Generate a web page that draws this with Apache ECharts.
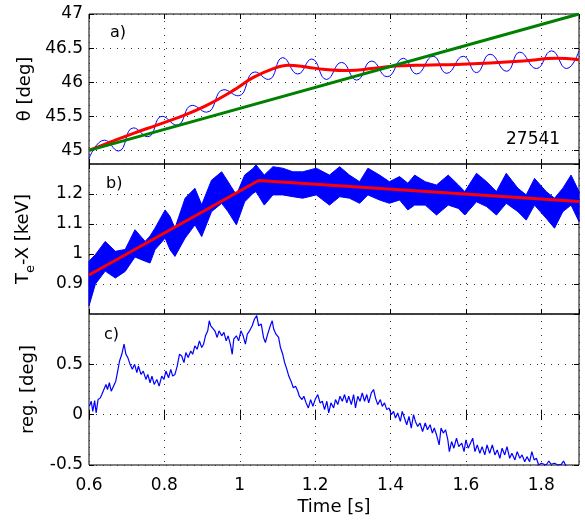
<!DOCTYPE html>
<html>
<head>
<meta charset="utf-8">
<script src="https://cdn.jsdelivr.net/npm/echarts@6/dist/echarts.min.js"></script>
<style>
  html, body { margin: 0; padding: 0; background: #fff; }
  #main { width: 585px; height: 522px; }
</style>
</head>
<body>
<div id="main"></div>
<script>
// a) theta: raw signal (peaks/troughs), smoothed, linear fit
const thetaT = [0.6, 0.641, 0.678, 0.718, 0.756, 0.794, 0.833, 0.874, 0.912, 0.958, 0.996, 1.040, 1.076, 1.114, 1.154, 1.191, 1.230, 1.270, 1.310, 1.350, 1.391, 1.434, 1.469, 1.513, 1.549, 1.593, 1.628, 1.664, 1.708, 1.743, 1.787, 1.827, 1.867, 1.9];
const thetaV = [44.88, 45.15, 44.99, 45.33, 45.2, 45.5, 45.37, 45.66, 45.56, 45.89, 45.8, 46.15, 46.04, 46.36, 46.12, 46.34, 46.04, 46.29, 46.03, 46.31, 46.08, 46.35, 46.12, 46.38, 46.13, 46.38, 46.14, 46.41, 46.16, 46.44, 46.2, 46.46, 46.2, 46.46];
const thetaSmT = [0.6, 0.656, 0.718, 0.78, 0.85, 0.912, 0.983, 1.036, 1.089, 1.128, 1.18, 1.221, 1.29, 1.35, 1.398, 1.487, 1.575, 1.664, 1.752, 1.84, 1.9];
const thetaSmV = [45.0, 45.12, 45.25, 45.37, 45.51, 45.66, 45.88, 46.07, 46.2, 46.25, 46.22, 46.19, 46.17, 46.2, 46.23, 46.25, 46.26, 46.28, 46.31, 46.35, 46.33];
const thetaFitT = [0.6, 1.9];
const thetaFitV = [45.0, 47.0];

// b) Te-X: envelope of the fast signal, piecewise fit
const teT = [0.6, 0.617, 0.643, 0.67, 0.696, 0.722, 0.749, 0.762, 0.775, 0.802, 0.815, 0.828, 0.855, 0.881, 0.899, 0.925, 0.952, 0.969, 0.991, 1.013, 1.035, 1.043, 1.065, 1.088, 1.114, 1.141, 1.167, 1.203, 1.238, 1.265, 1.291, 1.318, 1.34, 1.371, 1.397, 1.424, 1.446, 1.464, 1.492, 1.522, 1.553, 1.58, 1.597, 1.628, 1.655, 1.681, 1.707, 1.738, 1.76, 1.782, 1.813, 1.835, 1.857, 1.879, 1.9];
const teHi = [0.976, 0.998, 1.042, 1.009, 1.015, 1.081, 1.042, 1.06, 1.086, 1.147, 1.125, 1.086, 1.186, 1.219, 1.164, 1.246, 1.274, 1.241, 1.197, 1.263, 1.285, 1.297, 1.263, 1.291, 1.286, 1.274, 1.274, 1.286, 1.263, 1.291, 1.263, 1.241, 1.286, 1.263, 1.241, 1.258, 1.236, 1.263, 1.241, 1.23, 1.263, 1.23, 1.208, 1.269, 1.241, 1.208, 1.269, 1.219, 1.197, 1.252, 1.208, 1.186, 1.219, 1.263, 1.208];
const teLo = [0.827, 0.90, 0.943, 0.92, 0.942, 0.99, 0.976, 0.97, 1.014, 1.053, 1.014, 0.992, 1.053, 1.097, 1.058, 1.141, 1.169, 1.141, 1.097, 1.174, 1.202, 1.208, 1.163, 1.197, 1.197, 1.191, 1.186, 1.197, 1.163, 1.191, 1.186, 1.169, 1.197, 1.18, 1.169, 1.18, 1.147, 1.163, 1.163, 1.13, 1.163, 1.152, 1.13, 1.174, 1.158, 1.13, 1.169, 1.141, 1.113, 1.163, 1.119, 1.086, 1.141, 1.163, 1.108];
const teFitT = [0.6, 1.05, 1.9];
const teFitV = [0.93, 1.245, 1.175];

// c) reg.
const regT = [0.601, 0.606, 0.610, 0.615, 0.619, 0.624, 0.630, 0.634, 0.639, 0.645, 0.649, 0.654, 0.659, 0.665, 0.671, 0.677, 0.681, 0.687, 0.693, 0.698, 0.703, 0.709, 0.715, 0.721, 0.727, 0.731, 0.738, 0.744, 0.751, 0.756, 0.762, 0.767, 0.773, 0.780, 0.786, 0.793, 0.799, 0.804, 0.811, 0.817, 0.822, 0.828, 0.834, 0.840, 0.846, 0.852, 0.857, 0.863, 0.870, 0.875, 0.881, 0.887, 0.893, 0.899, 0.904, 0.909, 0.915, 0.919, 0.923, 0.928, 0.934, 0.940, 0.945, 0.952, 0.958, 0.964, 0.969, 0.975, 0.980, 0.984, 0.991, 0.997, 1.003, 1.009, 1.015, 1.020, 1.026, 1.033, 1.039, 1.045, 1.050, 1.057, 1.063, 1.068, 1.074, 1.081, 1.086, 1.090, 1.096, 1.103, 1.108, 1.114, 1.119, 1.125, 1.130, 1.136, 1.142, 1.148, 1.154, 1.158, 1.165, 1.170, 1.176, 1.182, 1.188, 1.194, 1.2, 1.207, 1.213, 1.219, 1.225, 1.231, 1.236, 1.242, 1.249, 1.254, 1.260, 1.266, 1.272, 1.278, 1.284, 1.289, 1.296, 1.302, 1.307, 1.313, 1.319, 1.325, 1.331, 1.337, 1.342, 1.349, 1.355, 1.360, 1.366, 1.373, 1.378, 1.384, 1.390, 1.396, 1.402, 1.408, 1.413, 1.419, 1.426, 1.431, 1.437, 1.443, 1.449, 1.455, 1.461, 1.466, 1.472, 1.478, 1.485, 1.492, 1.498, 1.505, 1.511, 1.516, 1.522, 1.529, 1.534, 1.540, 1.546, 1.552, 1.556, 1.562, 1.568, 1.575, 1.581, 1.589, 1.595, 1.6, 1.606, 1.612, 1.618, 1.624, 1.630, 1.637, 1.643, 1.650, 1.656, 1.663, 1.670, 1.677, 1.683, 1.690, 1.696, 1.703, 1.709, 1.716, 1.722, 1.730, 1.736, 1.743, 1.749, 1.756, 1.762, 1.769, 1.775, 1.781, 1.787, 1.793, 1.800, 1.813, 1.820, 1.826, 1.835, 1.844, 1.853, 1.859, 1.864, 1.875, 1.9];
const regV = [0.083, 0.133, 0.033, 0.14, 0.017, 0.15, 0.167, 0.2, 0.217, 0.3, 0.25, 0.317, 0.233, 0.283, 0.333, 0.45, 0.533, 0.6, 0.7, 0.6, 0.567, 0.5, 0.45, 0.5, 0.417, 0.483, 0.4, 0.433, 0.35, 0.4, 0.317, 0.383, 0.3, 0.35, 0.283, 0.383, 0.35, 0.433, 0.367, 0.45, 0.383, 0.4, 0.483, 0.6, 0.583, 0.517, 0.617, 0.567, 0.633, 0.6, 0.683, 0.65, 0.733, 0.667, 0.7, 0.783, 0.833, 0.933, 0.883, 0.9, 0.833, 0.767, 0.833, 0.783, 0.817, 0.733, 0.783, 0.7, 0.6, 0.75, 0.783, 0.733, 0.833, 0.783, 0.7, 0.8, 0.833, 0.883, 0.95, 0.983, 0.883, 0.9, 0.767, 0.717, 0.8, 0.883, 0.933, 0.85, 0.8, 0.767, 0.667, 0.6, 0.517, 0.45, 0.383, 0.333, 0.267, 0.283, 0.233, 0.183, 0.15, 0.183, 0.117, 0.067, 0.15, 0.083, 0.15, 0.2, 0.117, 0.133, 0.05, 0.133, 0.017, 0.117, 0.067, 0.15, 0.1, 0.183, 0.133, 0.2, 0.117, 0.183, 0.1, 0.2, 0.067, 0.183, 0.133, 0.217, 0.133, 0.2, 0.117, 0.217, 0.25, 0.167, 0.1, 0.15, 0.083, 0.117, 0.05, 0.067, 0, 0.033, -0.033, 0.017, -0.067, 0.033, -0.033, -0.1, -0.017, -0.133, 0, -0.067, -0.117, -0.083, -0.167, -0.083, -0.15, -0.1, -0.183, -0.133, -0.2, -0.3, -0.133, -0.183, -0.15, -0.25, -0.367, -0.267, -0.333, -0.233, -0.317, -0.283, -0.367, -0.25, -0.333, -0.283, -0.233, -0.367, -0.3, -0.383, -0.317, -0.4, -0.3, -0.383, -0.3, -0.4, -0.35, -0.433, -0.333, -0.4, -0.317, -0.433, -0.383, -0.45, -0.367, -0.433, -0.4, -0.467, -0.417, -0.467, -0.367, -0.45, -0.433, -0.5, -0.483, -0.5, -0.46, -0.493, -0.483, -0.5, -0.493, -0.46, -0.5, -0.53, -0.56];

const FONT = 'DejaVu Sans';
const zip = (t, v) => t.map((x, i) => [x, v[i]]);

const chart = echarts.init(document.getElementById('main'));

const dotted = { type: [1, 6], color: '#333', width: 1 };
const tick = { show: true, inside: true, length: 5, lineStyle: { color: '#000' } };
const label = { color: '#000', fontFamily: FONT, fontSize: 17 };
const nameStyle = { color: '#000', fontFamily: FONT, fontSize: 18 };

function xAxisFor(i, pos) {
  const main = pos === 'bottom';
  return {
    type: 'value', gridIndex: i, position: pos,
    min: 0.6, max: 1.9, interval: 0.2,
    axisLine: { show: false },
    axisTick: tick,
    axisLabel: Object.assign({ show: main && i === 2, margin: 12, showMaxLabel: false }, label),
    splitLine: { show: main, lineStyle: dotted },
    name: main && i === 2 ? 'Time [s]' : '',
    nameLocation: 'middle', nameGap: 33,
    nameTextStyle: nameStyle
  };
}

function yAxisFor(i, pos, range, extra) {
  const main = pos === 'left';
  return Object.assign({
    type: 'value', gridIndex: i, position: pos,
    min: range[0], max: range[1],
    axisLine: { show: false },
    axisTick: tick,
    axisLabel: Object.assign({ show: main, margin: 6 }, label),
    splitLine: { show: main, lineStyle: dotted },
    nameLocation: 'middle', nameGap: 52,
    nameTextStyle: nameStyle
  }, extra);
}

const ranges = [[44.8, 47], [0.8, 1.3], [-0.5, 1]];
const yExtra = [
  { name: 'θ [deg]' },
  { interval: 0.1, name: '{n|T}{s|e}{n|-X [keV]}',
    nameTextStyle: { color: '#000', fontFamily: FONT, fontSize: 18,
      rich: { n: { fontFamily: FONT, fontSize: 18, color: '#000' },
              s: { fontFamily: FONT, fontSize: 13, color: '#000', padding: [14, 0, 0, 0] } } } },
  { interval: 0.5, name: 'reg. [deg]' }
];

const xAxes = [], yAxes = [];
[0, 1, 2].forEach(i => {
  xAxes.push(xAxisFor(i, 'bottom'));
  yAxes.push(yAxisFor(i, 'left', ranges[i], yExtra[i]));
});
[0, 1, 2].forEach(i => {
  xAxes.push(xAxisFor(i, 'top'));
  yAxes.push(yAxisFor(i, 'right', ranges[i], { interval: yExtra[i].interval, name: '' }));
});
yAxes[0].axisLabel.showMinLabel = false;
yAxes[1].axisLabel.showMinLabel = false;
yAxes[1].axisLabel.showMaxLabel = false;
yAxes[2].axisLabel.showMaxLabel = false;

const gridBase = { left: 89, right: 6, show: true, borderColor: '#000', borderWidth: 1, backgroundColor: 'transparent' };

const option = {
  animation: false,
  backgroundColor: '#fff',
  grid: [
    Object.assign({ top: 14, height: 150 }, gridBase),
    Object.assign({ top: 164, height: 150 }, gridBase),
    Object.assign({ top: 314, height: 151 }, gridBase)
  ],
  xAxis: xAxes,
  yAxis: yAxes,
  graphic: [
    { type: 'text', left: 110, top: 25, style: { text: 'a)', font: '16px DejaVu Sans', fill: '#000' } },
    { type: 'text', left: 106, top: 176, style: { text: 'b)', font: '16px DejaVu Sans', fill: '#000' } },
    { type: 'text', left: 104, top: 327, style: { text: 'c)', font: '16px DejaVu Sans', fill: '#000' } },
    { type: 'text', left: 506, top: 131, style: { text: '27541', font: '17px DejaVu Sans', fill: '#000' } }
  ],
  series: [
    {
      type: 'line', xAxisIndex: 0, yAxisIndex: 0, data: zip(thetaT, thetaV),
      smooth: 0.5, showSymbol: false, lineStyle: { color: '#0000ff', width: 1 }
    },
    {
      type: 'line', xAxisIndex: 0, yAxisIndex: 0, data: zip(thetaSmT, thetaSmV),
      smooth: 0.4, showSymbol: false, lineStyle: { color: '#ff0000', width: 3 }
    },
    {
      type: 'line', xAxisIndex: 0, yAxisIndex: 0, data: zip(thetaFitT, thetaFitV),
      showSymbol: false, lineStyle: { color: '#008000', width: 3 }
    },
    {
      type: 'custom', xAxisIndex: 1, yAxisIndex: 1, data: [[0.6, 1.0]],
      renderItem: function (params, api) {
        const pts = [];
        for (let i = 0; i < teT.length; i++) pts.push(api.coord([teT[i], teHi[i]]));
        for (let i = teT.length - 1; i >= 0; i--) pts.push(api.coord([teT[i], teLo[i]]));
        return { type: 'polygon', shape: { points: pts },
          style: { fill: '#0000ff', stroke: '#0000ff', lineWidth: 1 } };
      }
    },
    {
      type: 'line', xAxisIndex: 1, yAxisIndex: 1, data: zip(teFitT, teFitV),
      showSymbol: false, lineStyle: { color: '#ff0000', width: 3 }
    },
    {
      type: 'line', xAxisIndex: 2, yAxisIndex: 2, data: zip(regT, regV),
      showSymbol: false, clip: true, lineStyle: { color: '#0000ff', width: 1.2 }
    }
  ]
};

chart.setOption(option);
</script>
</body>
</html>
